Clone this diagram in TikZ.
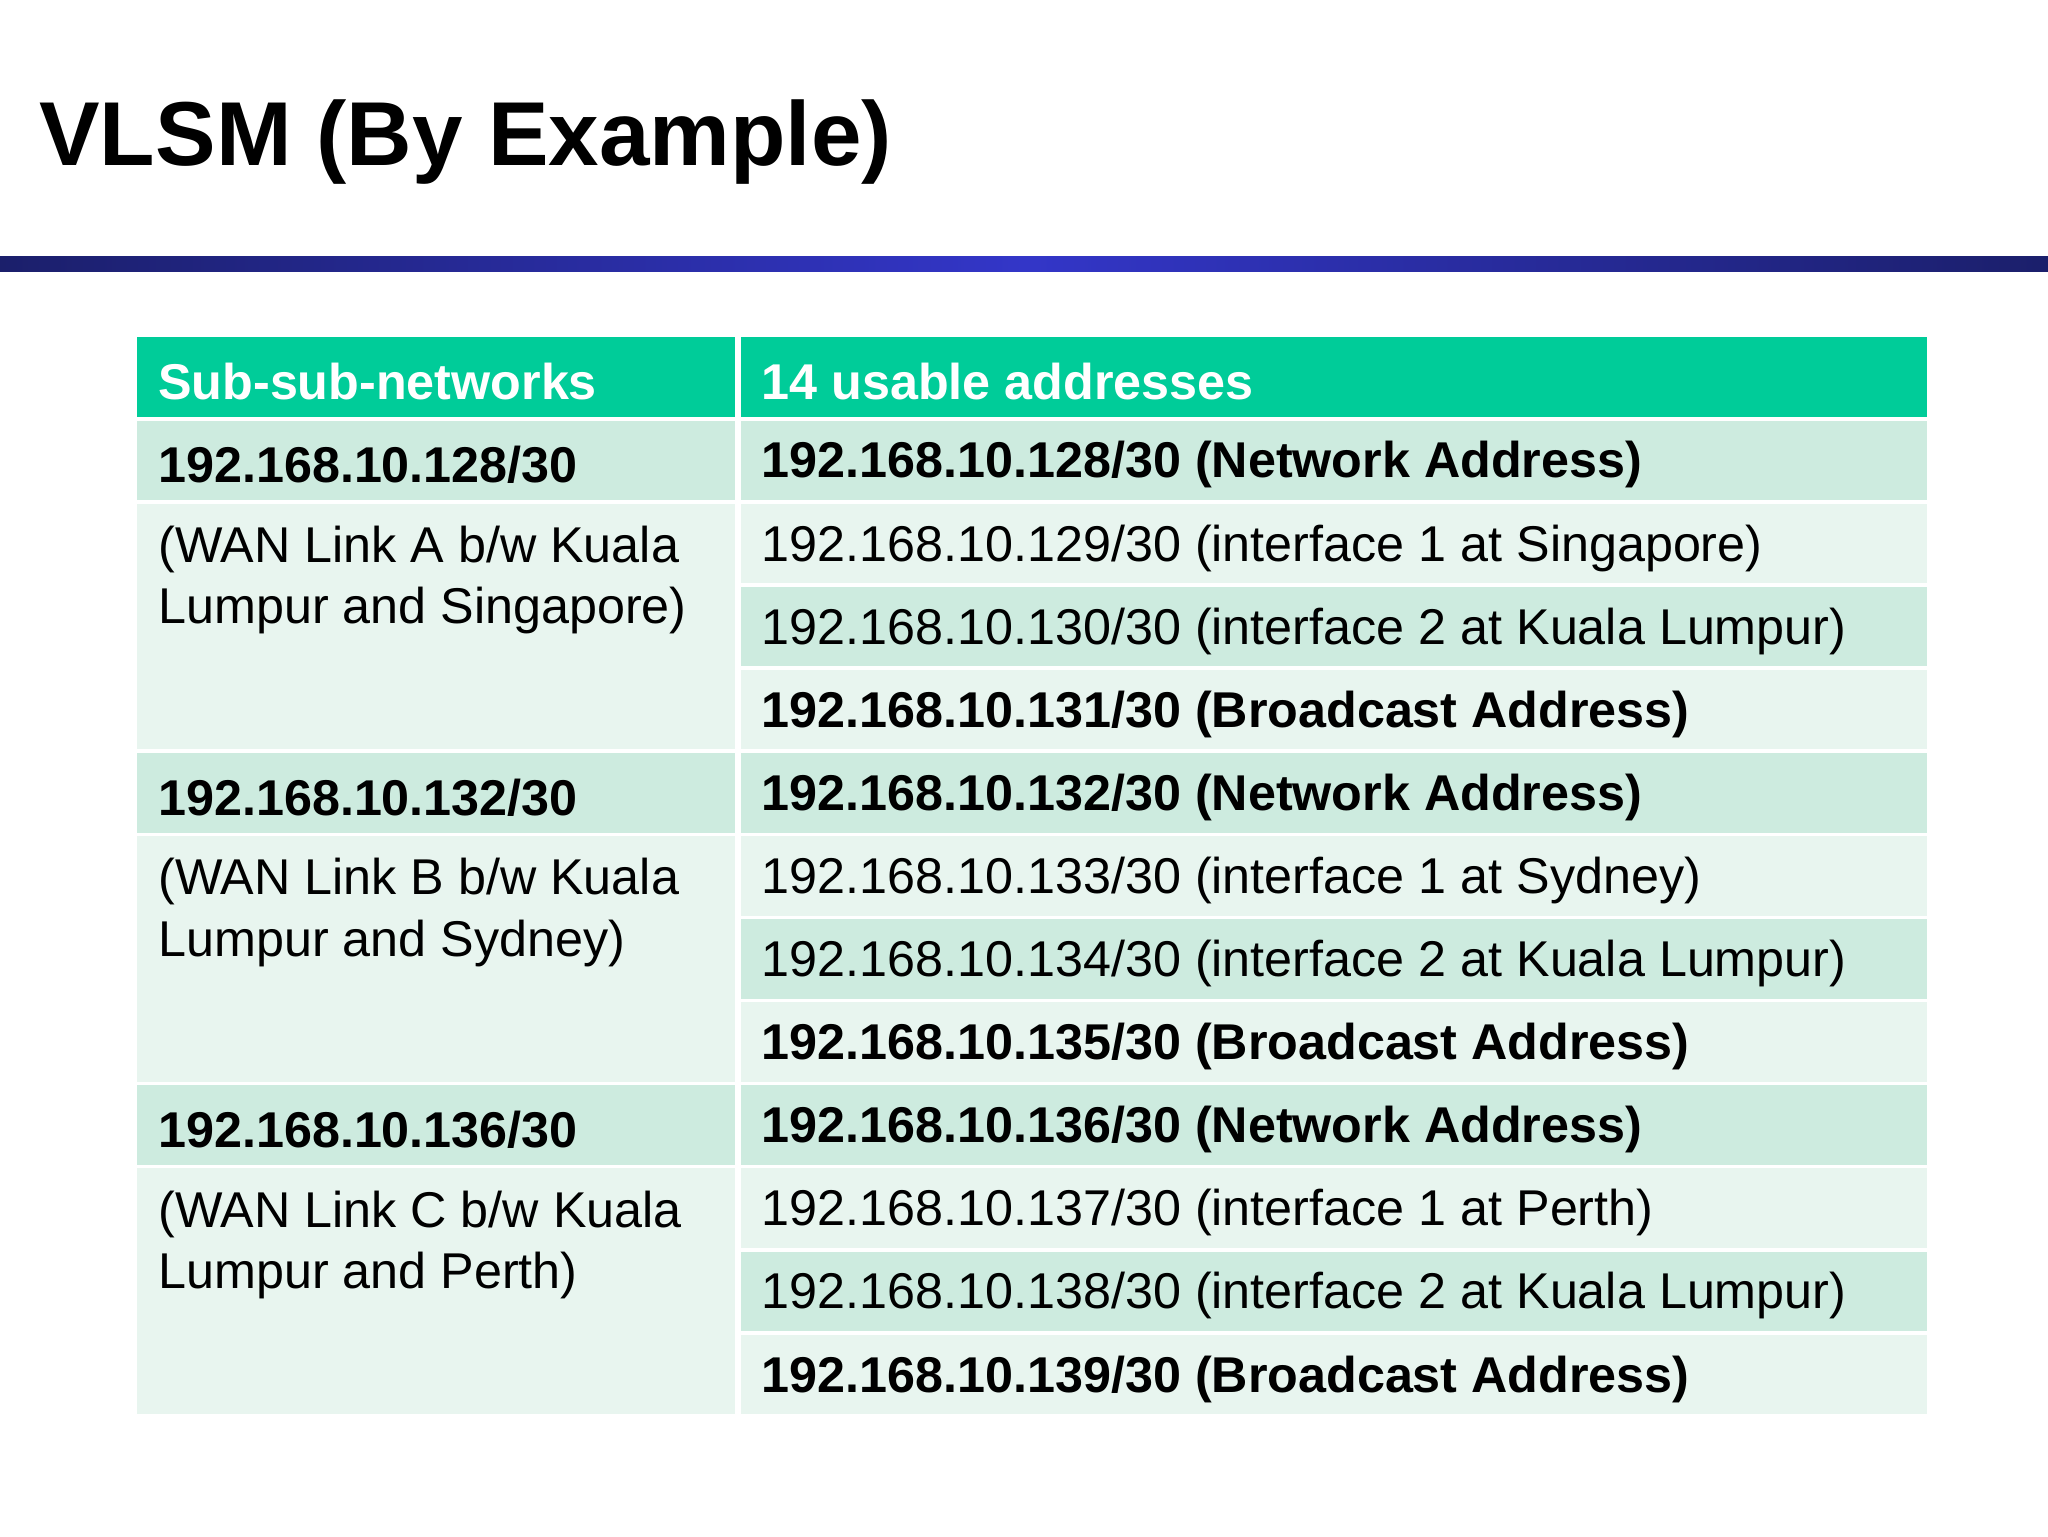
\documentclass[tikz,border=0pt]{standalone}
\usepackage{fontspec}
\setmainfont{Liberation Sans}
\begin{document}
\begin{tikzpicture}[x=1pt,y=-1pt,
  txt/.style={anchor=west,inner sep=0pt,font=\fontsize{38.5}{47}\selectfont},
  btxt/.style={txt,font=\fontsize{38.5}{47}\selectfont\bfseries},
  htxt/.style={txt,font=\fontsize{38.5}{47}\selectfont\bfseries,text=white}]
\definecolor{hdr}{HTML}{00CC99}
\definecolor{dk}{HTML}{CDEBDF}
\definecolor{lt}{HTML}{E8F5EF}
\definecolor{navy}{HTML}{1B1F6B}
\definecolor{blu}{HTML}{3336C8}
\useasboundingbox (0,0) rectangle (1568,1176);
\fill[white] (0,0) rectangle (1568,1176);
\node[inner sep=0pt,anchor=west,font=\fontsize{69.5}{80}\selectfont\bfseries] (title) at (30,109) {VLSM (By Example)};
\shade[left color=navy,right color=blu] (0,196) rectangle (784,208);
\shade[left color=blu,right color=navy] (784,196) rectangle (1568,208);
% header
\fill[hdr] (105,258) rectangle (563,319);
\fill[hdr] (567,258) rectangle (1475,319);
\node[htxt] (h1) at (121,292) {Sub-sub-networks};
\node[htxt] (h2) at (583,292) {14 usable addresses};
% rows
\foreach \g/\net/\desa/\desb/\ia/\ib/\na/\nb/\nc/\nd in {
 0/128/A/Singapore)/Singapore/Kuala Lumpur/128/129/130/131,
 1/132/B/Sydney)/Sydney/Kuala Lumpur/132/133/134/135,
 2/136/C/Perth)/Perth/Kuala Lumpur/136/137/138/139}{
  \pgfmathsetmacro{\t}{322+254.5*\g}
  \pgfmathsetmacro{\p}{63.6}
  \fill[dk] (105,\t) rectangle (563,\t+61);
  \fill[dk] (567,\t) rectangle (1475,\t+61);
  \fill[lt] (105,\t+\p) rectangle (563,\t+4*\p-2.6);
  \fill[lt] (567,\t+\p) rectangle (1475,\t+\p+61);
  \fill[dk] (567,\t+2*\p) rectangle (1475,\t+2*\p+61);
  \fill[lt] (567,\t+3*\p) rectangle (1475,\t+3*\p+61);
  \node[btxt] (n\g) at (121,\t+34) {192.168.10.\net/30};
  \node[txt,align=left,anchor=north west] (d\g) at (121,\t+\p+17) {(WAN Link \desa\ b/w Kuala\\Lumpur and \desb};
  \node[btxt] (a\g) at (583,\t+34) {192.168.10.\na/30 (Network Address)};
  \node[txt] (b\g) at (583,\t+\p+34) {192.168.10.\nb/30 (interface 1 at \ia)};
  \node[txt] (c\g) at (583,\t+2*\p+34) {192.168.10.\nc/30 (interface 2 at \ib)};
  \node[btxt] (e\g) at (583,\t+3*\p+34) {192.168.10.\nd/30 (Broadcast Address)};
}
\end{tikzpicture}
\end{document}
